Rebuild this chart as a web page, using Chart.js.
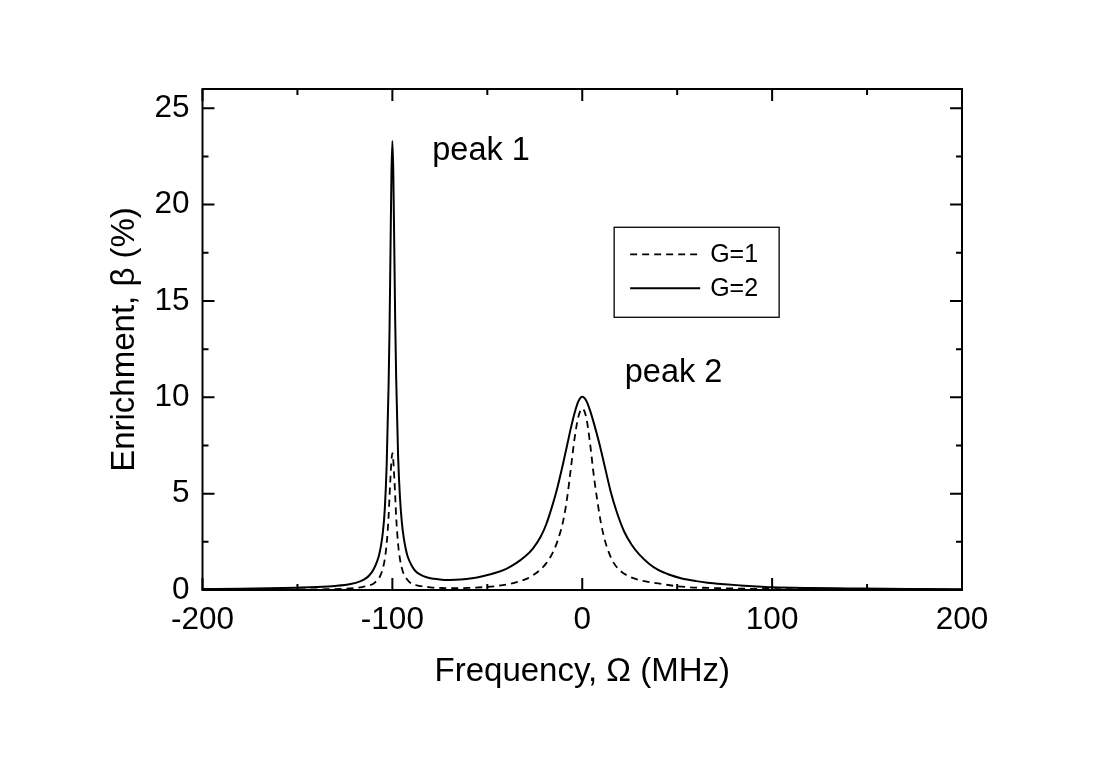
<!DOCTYPE html>
<html>
<head>
<meta charset="utf-8">
<script src="https://cdn.jsdelivr.net/npm/chart.js@4/dist/chart.umd.min.js"></script>
<style>
  html, body { margin: 0; padding: 0; background: #fff; }
  #wrap { width: 1103px; height: 763px; }
</style>
</head>
<body>
<div id="wrap"><canvas id="chart" width="1103" height="763"></canvas></div>
<script>
// ---- data ----
const g1X = [-200,-170,-150,-135,-125,-120,-116,-113,-110,-108,-107,-106,-105,-104,-103,-102,-101.5,-101,-100.5,-100,-99.5,-99,-98.5,-98,-97,-96,-95,-94,-92,-90,-87,-85,-80,-75,-70,-60,-50,-44,-38,-34,-30,-26,-22,-19,-16,-13,-10,-8,-6,-4,-2,0,2,4,6,8,10,12,14,16,20,25,30,35,40,48,57,70,83,100,130,160,200];
const g1Y = [0.01,0.015,0.025,0.04,0.07,0.1,0.15,0.22,0.33,0.5,0.62,0.82,1.12,1.6,2.4,3.8,4.85,5.85,6.7,7.1,6.7,5.85,4.85,3.8,2.4,1.6,1.13,0.83,0.52,0.34,0.24,0.2,0.14,0.11,0.09,0.11,0.16,0.22,0.32,0.42,0.55,0.76,1.06,1.38,1.85,2.55,3.6,4.75,6.3,7.9,9.0,9.42,9.0,7.7,6.0,4.6,3.4,2.55,1.95,1.5,1.0,0.69,0.52,0.42,0.34,0.22,0.14,0.10,0.07,0.05,0.03,0.02,0.015];

const g2X = [-200,-180,-165,-150,-140,-130,-122,-117,-114,-112,-110,-108,-107,-106,-105,-104,-103,-102,-101.5,-101,-100.5,-100,-99.5,-99,-98.5,-98,-97,-96,-95,-94,-93,-92,-90,-88,-85,-82,-78,-74,-70,-64,-58,-52,-46,-40,-35,-30,-26,-22,-19,-16,-13,-10,-8,-6,-4,-2,0,2,4,6,9,12,15,18,22,26,30,35,40,46,52,60,66,75,83,92,100,120,140,160,180,200];
const g2Y = [0.05,0.07,0.09,0.12,0.15,0.21,0.31,0.45,0.6,0.78,1.05,1.5,1.82,2.3,3.0,4.2,6.5,10.6,13.5,17.5,21.5,23.3,21.6,17.8,13.9,11.0,7.0,4.8,3.5,2.7,2.15,1.75,1.3,1.0,0.78,0.66,0.58,0.53,0.52,0.54,0.61,0.73,0.88,1.10,1.38,1.75,2.15,2.75,3.4,4.3,5.35,6.6,7.5,8.4,9.2,9.8,10.03,9.85,9.35,8.7,7.6,6.35,5.1,4.1,3.05,2.35,1.85,1.38,1.04,0.79,0.61,0.46,0.38,0.30,0.24,0.18,0.14,0.10,0.08,0.06,0.05,0.04];

const seriesLabels = ["G=1", "G=2"];
const xMajor = [-200, -100, 0, 100, 200];
const xMinor = [-150, -50, 50, 150];
const yMajor = [0, 5, 10, 15, 20, 25];
const yMinor = [2.5, 7.5, 12.5, 17.5, 22.5];
const peakNotes = [
  { text: "peak 1", x: -79, y: 22.3 },
  { text: "peak 2", x: 22.4, y: 10.8 }
];

const FONT = "'Liberation Sans', Arial, Helvetica, sans-serif";

function toPoints(xs, ys) {
  return xs.map((x, i) => ({ x: x, y: ys[i] }));
}

// frame, inward ticks (all four sides), notes and the boxed legend
const framePlugin = {
  id: "frame",
  afterDatasetsDraw(chart) {
    const { ctx, chartArea: a, scales } = chart;
    const xs = scales.x, ys = scales.y;
    ctx.save();
    ctx.strokeStyle = "#000";
    ctx.lineWidth = 2;
    ctx.strokeRect(a.left, a.top, a.right - a.left, a.bottom - a.top);

    ctx.beginPath();
    const tickX = (v, len) => {
      const p = xs.getPixelForValue(v);
      ctx.moveTo(p, a.bottom); ctx.lineTo(p, a.bottom - len);
      ctx.moveTo(p, a.top); ctx.lineTo(p, a.top + len);
    };
    const tickY = (v, len) => {
      const p = ys.getPixelForValue(v);
      ctx.moveTo(a.left, p); ctx.lineTo(a.left + len, p);
      ctx.moveTo(a.right, p); ctx.lineTo(a.right - len, p);
    };
    xMajor.forEach(v => tickX(v, 12));
    xMinor.forEach(v => tickX(v, 6));
    yMajor.forEach(v => tickY(v, 12));
    yMinor.forEach(v => tickY(v, 6));
    ctx.stroke();

    // peak notes
    ctx.fillStyle = "#000";
    ctx.font = "32.5px " + FONT;
    ctx.textAlign = "left";
    ctx.textBaseline = "alphabetic";
    peakNotes.forEach(n => {
      ctx.fillText(n.text, xs.getPixelForValue(n.x), ys.getPixelForValue(n.y));
    });

    // legend box
    const w = a.right - a.left, h = a.bottom - a.top;
    const bx = a.left + w * 0.542, by = a.top + h * 0.276;
    const bw = 165, bh = 90;
    ctx.lineWidth = 1.3;
    ctx.strokeRect(bx, by, bw, bh);
    ctx.font = "25px " + FONT;
    ctx.textBaseline = "middle";
    chart.data.datasets.forEach((ds, i) => {
      const ly = by + 27 + i * 34;
      ctx.save();
      ctx.lineWidth = ds.borderWidth;
      ctx.setLineDash(ds.borderDash || []);
      ctx.beginPath();
      ctx.moveTo(bx + 16, ly);
      ctx.lineTo(bx + 86, ly);
      ctx.stroke();
      ctx.restore();
      ctx.fillText(ds.label, bx + 96, ly + 1);
    });
    ctx.restore();
  }
};

new Chart(document.getElementById("chart"), {
  type: "line",
  data: {
    datasets: [
      {
        label: seriesLabels[0],
        data: toPoints(g1X, g1Y),
        borderColor: "#000",
        borderWidth: 1.8,
        borderDash: [7, 5],
        pointRadius: 0,
        cubicInterpolationMode: "monotone",
        fill: false
      },
      {
        label: seriesLabels[1],
        data: toPoints(g2X, g2Y),
        borderColor: "#000",
        borderWidth: 2,
        pointRadius: 0,
        cubicInterpolationMode: "monotone",
        fill: false
      }
    ]
  },
  options: {
    responsive: false,
    animation: false,
    devicePixelRatio: 1,
    layout: { padding: { left: 0, top: 89, right: 141, bottom: 0 } },
    plugins: {
      legend: { display: false },
      tooltip: { enabled: false }
    },
    scales: {
      x: {
        type: "linear",
        min: -200,
        max: 200,
        grid: { display: false, drawTicks: false },
        border: { display: false },
        ticks: {
          stepSize: 100,
          padding: 11,
          color: "#000",
          font: { family: FONT, size: 31.5 }
        },
        title: {
          display: true,
          text: "Frequency, \u03A9 (MHz)",
          color: "#000",
          font: { family: FONT, size: 33 },
          padding: { top: 0, bottom: 71 }
        },
        afterBuildTicks: s => { s.ticks = xMajor.map(v => ({ value: v })); },
        afterFit: s => { s.height = 173; }
      },
      y: {
        type: "linear",
        min: 0,
        max: 26,
        grid: { display: false, drawTicks: false },
        border: { display: false },
        ticks: {
          stepSize: 5,
          padding: 13,
          color: "#000",
          font: { family: FONT, size: 31.5 }
        },
        title: {
          display: true,
          text: "Enrichment, \u03B2 (%)",
          color: "#000",
          font: { family: FONT, size: 33 },
          padding: { top: 105, bottom: 0 }
        },
        afterBuildTicks: s => { s.ticks = yMajor.map(v => ({ value: v })); },
        afterFit: s => { s.width = 202.5; }
      }
    }
  },
  plugins: [framePlugin]
});
</script>
</body>
</html>
